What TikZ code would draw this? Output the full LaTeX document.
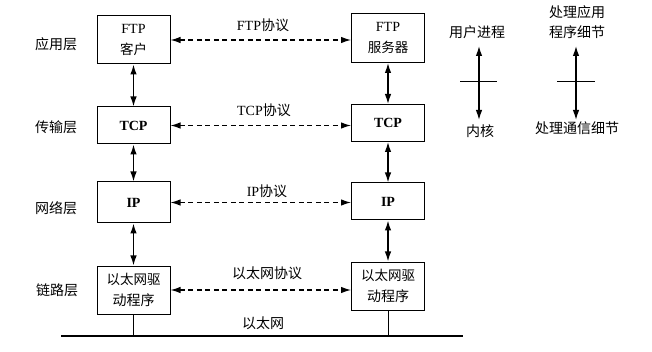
\documentclass[tikz,border=0pt]{standalone}
\usepackage{fontspec}
\setmainfont{Liberation Serif}
\newfontfamily\cjk{Noto Sans CJK SC}
\usetikzlibrary{arrows.meta}
\newcommand{\fs}{\fontsize{14}{20.5}\selectfont}
\begin{document}
\begin{tikzpicture}[x=1pt,y=-1pt,
  box/.style={draw, line width=1pt, minimum width=73pt, inner sep=0pt, align=center, font=\fs},
  lbl/.style={inner sep=0pt, align=center, font=\fs\cjk},
  varr/.style={line width=1.3pt, {Latex[length=10pt,width=6.5pt]}-{Latex[length=10pt,width=6.5pt]}},
  darr/.style={line width=1.2pt, dash pattern=on 5pt off 3.5pt, {Latex[length=10pt,width=6.5pt]}-{Latex[length=10pt,width=6.5pt]}},
  thin/.style={line width=1pt}]
\useasboundingbox (0,0) rectangle (652,352);

% left column
\node[box, minimum height=48pt] (cftp) at (133.5,40) {FTP\\{\cjk\fontsize{13.5}{20.5}\selectfont 客户}};
\node[box, minimum height=37pt] (ctcp) at (133.5,125.5) {\textbf{TCP}};
\node[box, minimum height=41pt] (cip)  at (133.5,202.5) {\textbf{IP}};
\node[box, minimum height=48pt] (cdrv) at (133.5,290) {\cjk\fontsize{13.5}{20.5}\selectfont 以太网驱\\\cjk 动程序};

% right column
\node[box, minimum height=49pt] (sftp) at (388,38) {FTP\\{\cjk\fontsize{13.5}{20.5}\selectfont 服务器}};
\node[box, minimum height=37pt] (stcp) at (388,123) {\textbf{TCP}};
\node[box, minimum height=37pt] (sip)  at (388,201.5) {\textbf{IP}};
\node[box, minimum height=48pt] (sdrv) at (388,286) {\cjk\fontsize{13.5}{20.5}\selectfont 以太网驱\\\cjk 动程序};

% layer labels
\node[lbl] (l1) at (56,44) {应用层};
\node[lbl] (l2) at (56,127.5) {传输层};
\node[lbl] (l3) at (56,208) {网络层};
\node[lbl] (l4) at (57,290) {链路层};

% vertical arrows
\draw[varr] (cftp.south) -- (ctcp.north);
\draw[varr] (ctcp.south) -- (cip.north);
\draw[varr] (cip.south) -- (cdrv.north);
\draw[varr] (sftp.south) -- (stcp.north);
\draw[varr] (stcp.south) -- (sip.north);
\draw[varr] (sip.south) -- (sdrv.north);

% peer protocols
\draw[darr] (cftp.east) -- (sftp.west |- cftp.east);
\draw[darr] (ctcp.east) -- (stcp.west |- ctcp.east);
\draw[darr] (cip.east) -- (sip.west |- cip.east);
\draw[darr] (cdrv.east) -- (sdrv.west |- cdrv.east);

\node[lbl] (p1) at (263,25) {{\rmfamily FTP}协议};
\node[lbl] (p2) at (264,110) {{\rmfamily TCP}协议};
\node[lbl] (p3) at (267,191) {{\rmfamily IP}协议};
\node[lbl] (p4) at (267,273) {以太网协议};
\node[lbl] (p5) at (263,323) {以太网};

% ethernet
\coordinate (eL) at (61,336);
\coordinate (eR) at (463,336);
\draw[line width=2.3pt] (eL) -- (eR);
\draw[thin] (cdrv.south) -- (cdrv.south |- eL);
\draw[thin] (sdrv.south) -- (sdrv.south |- eL);

% legend 1
\node[lbl] (user) at (477,32) {用户进程};
\node[lbl] (kern) at (480,131) {内核};
\coordinate (ua) at (479,46);
\coordinate (ub) at (479,120);
\draw[varr] (ua) -- (ub);
\coordinate (h1) at (460,82);
\coordinate (h2) at (497,82);
\draw[thin] (h1) -- (h2);

% legend 2
\node[lbl] (app) at (577,22) {处理应用\\程序细节};
\node[lbl] (comm) at (577,128) {处理通信细节};
\coordinate (va) at (576,46);
\coordinate (vb) at (576,120);
\draw[varr] (va) -- (vb);
\coordinate (k1) at (557,82);
\coordinate (k2) at (595,82);
\draw[thin] (k1) -- (k2);
\end{tikzpicture}
\end{document}
